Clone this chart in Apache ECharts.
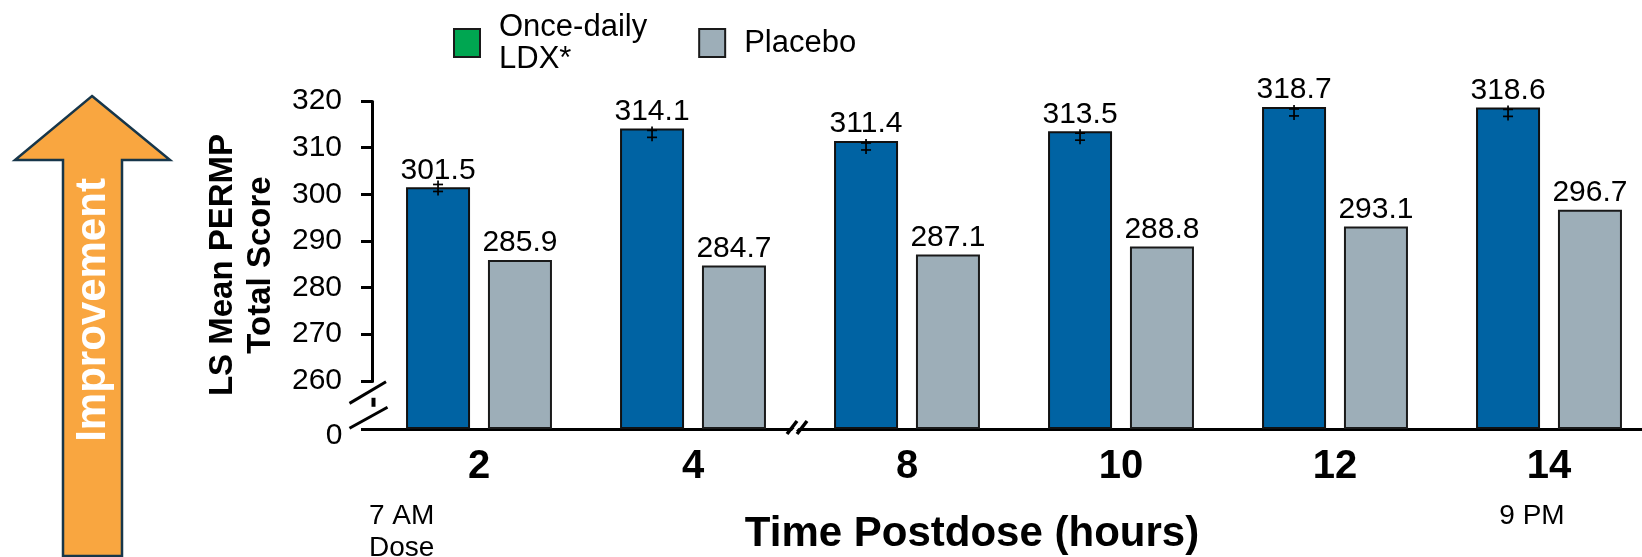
<!DOCTYPE html>
<html><head><meta charset="utf-8">
<script src="https://cdn.jsdelivr.net/npm/echarts@6/dist/echarts.min.js"></script>
<style>html,body{margin:0;padding:0;background:#fff}#c{width:1642px;height:557px}</style>
</head><body><div id="c"></div>
<script>
// ---- data ----
const categories = ['2', '4', '8', '10', '12', '14'];
const seriesNames = ['Once-daily\nLDX*', 'Placebo'];
const ldxValues = [301.5, 314.1, 311.4, 313.5, 318.7, 318.6];
const placeboValues = [285.9, 284.7, 287.1, 288.8, 293.1, 296.7];
const ldxErrHigh = [302.1, 313.7, 311.0, 313.1, 318.3, 318.2];
const ldxErrLow = [300.6, 312.2, 309.5, 311.6, 316.8, 316.7];
const yMin = 0, yMax = 320, yInterval = 10;
const yBreak = { start: 0, end: 260 };

// ---- layout constants ----
const GRID_LEFT = 372, GRID_RIGHT = -14, GRID_TOP = 101, GRID_BOTTOM = 128;
const BAR_W = 64, BAR_GAP = 0.28;
const FONT = "'Liberation Sans', Arial, Helvetica, sans-serif";

const chart = echarts.init(document.getElementById('c'), null, { renderer: 'canvas' });

function renderErr(params, api) {
  const i = api.value(0);
  const lo = api.coord([i, api.value(1)]);
  const hi = api.coord([i, api.value(2)]);
  const x = lo[0] - (BAR_W * (1 + BAR_GAP)) / 2;
  const st = { stroke: '#000', lineWidth: 1.7 };
  return {
    type: 'group',
    children: [
      { type: 'line', shape: { x1: x, y1: hi[1] - 4, x2: x, y2: lo[1] + 4 }, style: st },
      { type: 'line', shape: { x1: x - 5, y1: hi[1], x2: x + 5, y2: hi[1] }, style: st },
      { type: 'line', shape: { x1: x - 5, y1: lo[1], x2: x + 5, y2: lo[1] }, style: st }
    ]
  };
}

const option = {
  backgroundColor: '#ffffff',
  animation: false,
  textStyle: { fontFamily: FONT, color: '#000' },
  grid: {
    left: GRID_LEFT, right: GRID_RIGHT, top: GRID_TOP, bottom: GRID_BOTTOM,
    containLabel: false, outerBoundsMode: 'none'
  },
  legend: {
    left: 448, top: 6,
    itemWidth: 26, itemHeight: 28, itemGap: 51,
    icon: 'rect',
    textStyle: { fontSize: 31, lineHeight: 32, color: '#000', fontFamily: FONT, padding: [0, 0, 0, 14] },
    data: [
      { name: seriesNames[0], itemStyle: { color: '#00A651', borderColor: '#1a1a1a', borderWidth: 2 } },
      { name: seriesNames[1], itemStyle: { color: '#9DAEB8', borderColor: '#1a1a1a', borderWidth: 2 } }
    ]
  },
  xAxis: {
    type: 'category',
    data: categories,
    axisLine: { lineStyle: { color: '#000', width: 3 } },
    axisTick: { show: false },
    axisLabel: { fontSize: 40, fontWeight: 'bold', color: '#000', margin: 18, fontFamily: FONT },
    name: 'Time Postdose (hours)',
    nameLocation: 'middle',
    nameGap: 84,
    nameTextStyle: { fontSize: 42, fontWeight: 'bold', color: '#000', fontFamily: FONT, padding: [0, 84, 0, 0] }
  },
  yAxis: {
    type: 'value',
    min: yMin, max: yMax, interval: yInterval,
    breaks: [{ start: yBreak.start, end: yBreak.end, gap: '14.7%' }],
    breakArea: { show: false },
    axisLine: { show: true, lineStyle: { color: '#000', width: 3 } },
    axisTick: { show: true, length: 11, lineStyle: { color: '#000', width: 3 } },
    axisLabel: {
      fontSize: 30, color: '#000', margin: 30, fontFamily: FONT,
      formatter: function (v) { return v === yBreak.start ? '' : String(v); }
    },
    splitLine: { show: false },
    name: 'LS Mean PERMP\nTotal Score',
    nameLocation: 'middle',
    nameRotate: 90,
    nameGap: 92,
    nameTextStyle: { fontSize: 33, fontWeight: 'bold', lineHeight: 38, color: '#000', fontFamily: FONT }
  },
  series: [
    {
      name: seriesNames[0], type: 'bar', data: ldxValues,
      barWidth: BAR_W, barGap: (BAR_GAP * 100) + '%',
      itemStyle: { color: '#0063A3', borderColor: '#111', borderWidth: 2 },
      label: { show: true, position: 'top', distance: 2, fontSize: 30, color: '#000', fontFamily: FONT }
    },
    {
      name: seriesNames[1], type: 'bar', data: placeboValues,
      barWidth: BAR_W,
      itemStyle: { color: '#9DAEB8', borderColor: '#1a1a1a', borderWidth: 2 },
      label: { show: true, position: 'top', distance: 2, fontSize: 30, color: '#000', fontFamily: FONT }
    },
    {
      type: 'custom', name: 'LDX error', z: 5,
      renderItem: renderErr,
      encode: { x: 0, y: [1, 2] },
      data: categories.map((c, i) => [i, ldxErrLow[i], ldxErrHigh[i]]),
      tooltip: { show: false }
    }
  ],
  graphic: [
    {
      id: 'arrow', type: 'polygon', z: 1,
      shape: { points: [[92, 96], [170, 160], [122, 160], [122, 556], [63, 556], [63, 160], [15, 160]] },
      style: { fill: '#F9A640', stroke: '#17364A', lineWidth: 2.5 }
    },
    {
      id: 'improvement', type: 'text', z: 2, x: 93, y: 310, rotation: Math.PI / 2,
      style: { text: 'Improvement', fill: '#fff', font: 'bold 42px ' + FONT, textAlign: 'center', textVerticalAlign: 'middle' }
    },
    {
      id: 'am', type: 'text', x: 369, y: 500,
      style: { text: '7 AM\nDose', fill: '#000', font: '28px ' + FONT, lineHeight: 32, textAlign: 'left', textVerticalAlign: 'top' }
    },
    {
      id: 'pm', type: 'text', x: 1532, y: 502,
      style: { text: '9 PM', fill: '#000', font: '28px ' + FONT, textAlign: 'center', textVerticalAlign: 'top' }
    }
  ]
};
chart.setOption(option);

// ---- axis-break decorations, positioned through the chart's own scales ----
const p260 = chart.convertToPixel({ gridIndex: 0 }, [0, yBreak.end]);
const p0 = chart.convertToPixel({ gridIndex: 0 }, [0, yBreak.start]);
const c1 = chart.convertToPixel({ gridIndex: 0 }, [1, 0]);
const c2 = chart.convertToPixel({ gridIndex: 0 }, [2, 0]);
const ax = GRID_LEFT + 1.5;
const y2 = p260[1], y0 = p0[1];
const bx = (c1[0] + c2[0]) / 2 - 2;
const blk = { stroke: '#000', lineWidth: 3 };
chart.setOption({
  graphic: [
    { id: 'zeroLabel', type: 'text', z: 101, x: ax - 31, y: y0 + 7,
      style: { text: String(yBreak.start), fill: '#000', font: '30px ' + FONT, textAlign: 'right', textVerticalAlign: 'middle' } },
    { id: 'ycut', type: 'rect', z: 100, shape: { x: ax - 4, y: y2 + 6, width: 8, height: y0 - y2 - 8 }, style: { fill: '#fff' } },
    { id: 'ydash', type: 'rect', z: 101, shape: { x: ax - 2, y: y2 + 17, width: 4, height: 9 }, style: { fill: '#000' } },
    { id: 'yslash1', type: 'line', z: 101, shape: { x1: ax - 24, y1: y2 + 22.6, x2: ax + 12.5, y2: y2 + 1 }, style: blk },
    { id: 'yslash2', type: 'line', z: 101, shape: { x1: ax - 24, y1: y0 - 0.7, x2: ax + 14, y2: y0 - 21.7 }, style: blk },
    { id: 'xcut', type: 'polygon', z: 100, shape: { points: [[bx - 8, y0 + 4], [bx + 2, y0 - 7], [bx + 6, y0 - 7], [bx - 4, y0 + 4]] }, style: { fill: '#fff' } },
    { id: 'xs1', type: 'line', z: 101, shape: { x1: bx - 11, y1: y0 + 5, x2: bx - 1, y2: y0 - 8 }, style: { stroke: '#000', lineWidth: 3.5 } },
    { id: 'xs2', type: 'line', z: 101, shape: { x1: bx - 1, y1: y0 + 5, x2: bx + 9, y2: y0 - 8 }, style: { stroke: '#000', lineWidth: 3.5 } }
  ]
});
</script>
</body></html>
